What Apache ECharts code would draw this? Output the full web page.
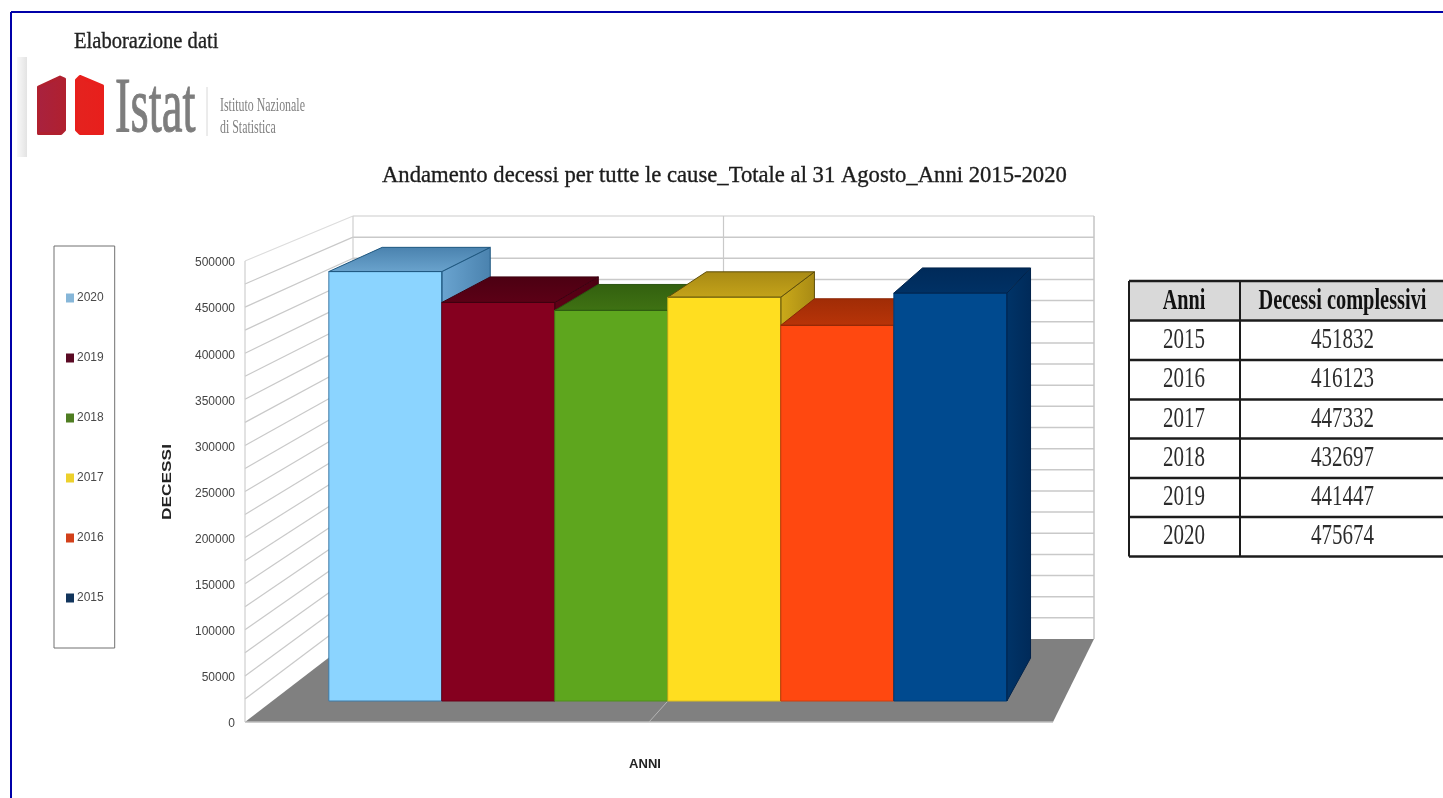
<!DOCTYPE html>
<html>
<head>
<meta charset="utf-8">
<title>Andamento decessi</title>
<style>
  html, body { margin: 0; padding: 0; background: #fff; }
  #chart { width: 1443px; height: 798px; }
</style>
<script src="https://cdn.jsdelivr.net/npm/echarts@6/dist/echarts.min.js"></script>
</head>
<body>
<div id="chart"></div>
<script>
// Death totals by year, 1 January to 31 August
const tableYears = ['2015', '2016', '2017', '2018', '2019', '2020'];
const tableDeaths = [451832, 416123, 447332, 432697, 441447, 475674];
const tableHeader = ['Anni', 'Decessi complessivi'];
const chartTitle = 'Andamento decessi per tutte le cause_Totale al 31 Agosto_Anni 2015-2020';

// Bars run from the newest year on the left to the oldest on the right
const barYears = tableYears.slice().reverse();
const barDeaths = tableDeaths.slice().reverse();

const frontColors = ['#8bd4ff', '#85001f', '#5ea61e', '#ffde20', '#ff4810', '#004a8f'];
const topColors = ['#6aa3cd', '#5c0016', '#3f7213', '#c4a31a', '#b83408', '#003165'];
const sideColors = ['#6aa4d0', '#5f0016', '#417514', '#cbaa1a', '#ba3409', '#003468'];
const farColors = ['#4a82ae', '#4c0012', '#33600f', '#a88a14', '#a02c06', '#002a59'];
const legendColors = ['#86b6d8', '#5a0a24', '#4f7d22', '#ecd02c', '#d2401a', '#12355c'];
const edgeColors = ['#1f5880', '#3d0010', '#2a5410', '#5e4e0a', '#8a2606', '#00224a'];
const faceEdgeColors = ['#3f7aa5', '#6a0018', '#4e8f1a', '#dcbf1c', '#d03c0c', '#003c74'];

const AXIS_MAX = 500000;
const LABEL_STEP = 50000;
const GRID_STEP = 25000;

// Perspective box: front plane (the axis plane) and back wall, in page pixels
const F = { l: 245, r: 1053, t: 261, b: 722 };
const K = { l: 353, r: 1094, t: 216, b: 639 };
const BAR_NEAR = 0.253;
const BAR_FAR = 0.77;

const lerp = (a, b, t) => a + (b - a) * t;

// Maps a data point at depth t (0 = front plane, 1 = back wall) to the page
function project(api, xv, yv, t) {
  const p = api.coord([xv, yv]);
  const u = (p[0] - F.l) / (F.r - F.l);
  const v = (F.b - p[1]) / (F.b - F.t);
  return [
    lerp(F.l, K.l, t) + u * lerp(F.r - F.l, K.r - K.l, t),
    lerp(F.b, K.b, t) - v * lerp(F.b - F.t, K.b - K.t, t)
  ];
}

function poly(points, fill, stroke, lineWidth) {
  return {
    type: 'polygon',
    shape: { points },
    style: { fill, stroke: stroke || null, lineWidth: lineWidth || 0, lineJoin: 'round' }
  };
}

function line(a, b, stroke, lineWidth) {
  return {
    type: 'line',
    shape: { x1: a[0], y1: a[1], x2: b[0], y2: b[1] },
    style: { stroke, lineWidth }
  };
}

function fade(from, to, horizontal) {
  return {
    type: 'linear', x: 0, y: 0, x2: horizontal ? 1 : 0, y2: horizontal ? 0 : 1,
    colorStops: [{ offset: 0, color: from }, { offset: 1, color: to }]
  };
}

// Floor, walls and their grid lines
function renderBox(params, api) {
  const xMin = -0.5, xMax = 6.5, xMid = 3;
  const P = (x, y, t) => project(api, x, y, t);
  const grid = '#c9c9c9';
  const kids = [
    poly([P(xMin, 0, 0), P(xMax, 0, 0), P(xMax, 0, 1), P(xMin, 0, 1)], '#808080'),
    line(P(xMid, 0, 0), P(xMid, 0, 1), '#b4b4b4', 1),
    line(P(xMin, 0, 0), P(xMax, 0, 0), '#bdbdbd', 1.5)
  ];
  for (let v = GRID_STEP; v <= AXIS_MAX; v += GRID_STEP) {
    kids.push(line(P(xMin, v, 0), P(xMin, v, 1), v === AXIS_MAX ? '#dcdcdc' : grid, 1.2));
    kids.push(line(P(xMin, v, 1), P(xMax, v, 1), v === AXIS_MAX ? '#dcdcdc' : grid, 1.5));
  }
  kids.push(line(P(xMin, 0, 0), P(xMin, AXIS_MAX, 0), '#cfcfcf', 1.2));
  kids.push(line(P(xMin, 0, 1), P(xMin, AXIS_MAX, 1), '#cfcfcf', 1.2));
  kids.push(line(P(xMax, 0, 1), P(xMax, AXIS_MAX, 1), '#c4c4c4', 1.5));
  kids.push(line(P(xMid, 0, 1), P(xMid, AXIS_MAX, 1), '#c9c9c9', 1.2));
  return { type: 'group', children: kids };
}

// One perspective bar: side and top first, then the front face and its lit edges
function renderBar(i) {
  return function (params, api) {
    const x0 = api.value(0);
    const x1 = x0 + 1;
    const v = api.value(1);
    const P = (x, y, t) => project(api, x, y, t);
    const edge = edgeColors[i];
    return {
      type: 'group',
      children: [
        poly([P(x1, 0, BAR_NEAR), P(x1, 0, BAR_FAR), P(x1, v, BAR_FAR), P(x1, v, BAR_NEAR)],
          fade(sideColors[i], farColors[i], true), edge, 1),
        poly([P(x0, v, BAR_NEAR), P(x1, v, BAR_NEAR), P(x1, v, BAR_FAR), P(x0, v, BAR_FAR)],
          fade(farColors[i], topColors[i], false), edge, 1),
        poly([P(x0, 0, BAR_NEAR), P(x1, 0, BAR_NEAR), P(x1, v, BAR_NEAR), P(x0, v, BAR_NEAR)],
          frontColors[i], faceEdgeColors[i], 1),
        line(P(x0, v, BAR_NEAR), P(x1, v, BAR_NEAR), edge, 1),
        line(P(x1, v, BAR_NEAR), P(x1, 0, BAR_NEAR), edge, 1)
      ]
    };
  };
}

// Table to the right of the chart; it runs off the page edge
function buildTable() {
  const left = 1129, split = 1240, right = 1445;
  const rowY = [281, 320.5, 360, 399.5, 438.5, 478, 517, 556.5];
  const ink = '#1c1c1c';
  const cells = [
    { type: 'rect', shape: { x: left, y: rowY[0], width: right - left, height: rowY[1] - rowY[0] }, style: { fill: '#d9d9d9' } }
  ];
  rowY.forEach(y => cells.push({
    type: 'line', shape: { x1: left, y1: y, x2: right, y2: y }, style: { stroke: ink, lineWidth: 2.4 }
  }));
  [left, split].forEach(x => cells.push({
    type: 'line', shape: { x1: x, y1: rowY[0], x2: x, y2: rowY[rowY.length - 1] }, style: { stroke: ink, lineWidth: 2 }
  }));
  const cellText = (text, x, y, weight, fill, scaleX) => ({
    type: 'text', x, y, scaleX: scaleX || 1, scaleY: 1.4,
    style: {
      text, fill, textAlign: 'center', textVerticalAlign: 'middle',
      font: weight + ' 21px "Liberation Serif"'
    }
  });
  const col1 = (left + split) / 2 - 0.5, col2 = 1342.5;
  cells.push(cellText(tableHeader[0], col1, 301, 'bold', '#111', 0.96));
  cells.push(cellText(tableHeader[1], col2, 301, 'bold', '#111', 0.97));
  tableYears.forEach((year, i) => {
    const y = (rowY[i + 1] + rowY[i + 2]) / 2;
    cells.push(cellText(year, col1, y, 'normal', '#2c2c2c'));
    cells.push(cellText(String(tableDeaths[i]), col2, y, 'normal', '#2c2c2c'));
  });
  return cells;
}

// Page frame, publisher mark, title and y axis caption
function buildBranding() {
  const stretched = (text, x, y, size, scaleX, scaleY, fill, heft) => ({
    type: 'text', x, y, scaleX, scaleY,
    style: {
      text, fill, stroke: heft ? fill : null, lineWidth: heft || 0,
      textAlign: 'left', textVerticalAlign: 'middle', font: size + 'px "Liberation Serif"'
    }
  });
  const block = (points, from, to) => ({
    type: 'polygon', shape: { points },
    style: { fill: fade(from, to, true), stroke: to, lineWidth: 3, lineJoin: 'round' }
  });
  return [
    { type: 'line', shape: { x1: 11, y1: 12, x2: 1443, y2: 12 }, style: { stroke: '#0000a8', lineWidth: 2 } },
    { type: 'line', shape: { x1: 11, y1: 12, x2: 11, y2: 798 }, style: { stroke: '#0000a8', lineWidth: 2 } },
    {
      type: 'rect', shape: { x: 17, y: 57, width: 10, height: 100 },
      style: { fill: fade('#f9f9f9', '#e3e3e3', true) }
    },
    block([[38.5, 87], [60, 77], [64.5, 79], [64.5, 130], [61, 133.5], [38.5, 133.5]], '#a8223f', '#b0202f'),
    block([[76.5, 80], [80, 76.5], [102.5, 86], [102.5, 133.5], [80, 133.5], [76.5, 130]], '#e4231f', '#e81f1c'),
    stretched('Istat', 115, 111, 78, 0.6, 1, '#7d7d7d', 1),
    { type: 'line', shape: { x1: 207, y1: 87, x2: 207, y2: 136 }, style: { stroke: '#d8d8d8', lineWidth: 1 } },
    stretched('Istituto Nazionale', 220, 106, 17, 0.7, 1.15, '#808080'),
    stretched('di Statistica', 220, 128, 17, 0.7, 1.15, '#808080'),
    stretched('Elaborazione dati', 74, 42, 23, 0.894, 1, '#222', 0.35),
    stretched(chartTitle, 382, 176, 24, 0.944, 1, '#1c1c1c', 0.35),
    {
      type: 'text', x: 168, y: 482, rotation: Math.PI / 2, scaleX: 1.44,
      style: {
        text: 'DECESSI', fill: '#222', textAlign: 'center', textVerticalAlign: 'middle',
        font: 'bold 12px "Liberation Sans"'
      }
    }
  ];
}

const series = [
  {
    name: 'box',
    type: 'custom',
    silent: true,
    z: 1,
    data: [[0, 0]],
    renderItem: renderBox
  }
].concat(barYears.map((year, i) => ({
  name: year,
  type: 'custom',
  z: 2,
  itemStyle: { color: legendColors[i] },
  encode: { x: 0, y: 1 },
  data: [[i, barDeaths[i]]],
  renderItem: renderBar(i)
})));

const chart = echarts.init(document.getElementById('chart'));
chart.setOption({
  animation: false,
  backgroundColor: '#ffffff',
  legend: {
    orient: 'vertical',
    left: 54,
    top: 246,
    padding: [46, 11, 44, 12],
    itemGap: 48,
    itemWidth: 8,
    itemHeight: 9,
    icon: 'rect',
    borderColor: '#707070',
    borderWidth: 1,
    data: barYears,
    textStyle: { fontFamily: '"Liberation Sans"', fontSize: 12, color: '#4a4a4a', padding: [0, 0, 0, -2] }
  },
  grid: {
    left: F.l,
    top: F.t,
    width: F.r - F.l,
    height: F.b - F.t,
    containLabel: false
  },
  xAxis: {
    type: 'value',
    min: -0.5,
    max: 6.5,
    name: 'ANNI',
    nameLocation: 'middle',
    nameGap: 36,
    nameTextStyle: { fontFamily: '"Liberation Sans"', fontSize: 13, fontWeight: 'bold', color: '#222', padding: [0, 8, 0, 0] },
    axisLine: { show: false },
    axisTick: { show: false },
    axisLabel: { show: false },
    splitLine: { show: false }
  },
  yAxis: {
    type: 'value',
    min: 0,
    max: AXIS_MAX,
    interval: LABEL_STEP,
    axisLine: { show: false },
    axisTick: { show: false },
    axisLabel: {
      margin: 10,
      fontFamily: '"Liberation Sans"',
      fontSize: 12,
      color: '#444',
      verticalAlign: 'top',
      lineHeight: 4,
      formatter: value => String(value)
    },
    splitLine: { show: false }
  },
  series,
  graphic: { elements: buildBranding().concat(buildTable()) }
});
</script>
</body>
</html>
